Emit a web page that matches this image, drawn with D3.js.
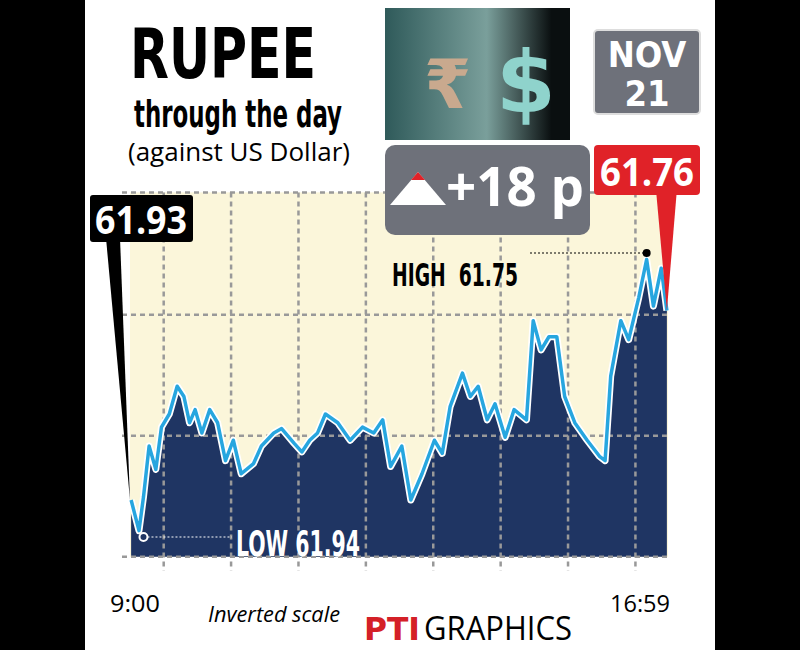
<!DOCTYPE html>
<html><head><meta charset="utf-8">
<script src="https://cdn.jsdelivr.net/npm/d3@7"></script>
<style>body{margin:0;background:#000}svg{display:block}</style>
</head><body><svg id="c" width="800" height="650"></svg>
<script>
// minutes after 9:00 open, rupee per dollar (scale is inverted)
const minutes = [1,8,12,17,23,28,35,42,48,53,58,64,71,78,85,92,99,110,117,128,135,146,153,160,167,174,185,196,207,217,225,232,242,250,260,271,278,285,296,303,310,318,325,334,342,353,359,366,373,380,387,396,407,418,423,428,437,444,453,460,466,473,478];
const rates = [61.916,61.937,61.914,61.879,61.895,61.866,61.857,61.838,61.845,61.863,61.854,61.870,61.854,61.863,61.889,61.875,61.898,61.891,61.879,61.870,61.867,61.877,61.883,61.875,61.870,61.857,61.863,61.875,61.866,61.870,61.861,61.893,61.879,61.916,61.898,61.875,61.884,61.852,61.829,61.845,61.838,61.861,61.850,61.873,61.854,61.861,61.793,61.813,61.804,61.804,61.845,61.863,61.875,61.886,61.889,61.831,61.793,61.806,61.777,61.751,61.783,61.757,61.786];
const gridRates = [61.705,61.789,61.872,61.955];
const gridMinutes = [30,90,150,210,270,330,390,450];
const timeLabels = ["9:00","16:59"];
const openRate = "61.93", closeRate = "61.76", change = "+18 p";
const high = {m:460, v:61.75, label:"HIGH  61.75"};
const low = {m:12, v:61.94, label:"LOW  61.94"};

const svg = d3.select("#c");
const cond = "'Liberation Sans Narrow','DejaVu Sans Condensed',sans-serif";
svg.append("rect").attr("x",85).attr("y",0).attr("width",630).attr("height",650).attr("fill","#fff");

const x = d3.scaleLinear().domain([0,479]).range([130,668]);
const y = d3.scaleLinear().domain([61.75,61.94]).range([258,535]);
const data = minutes.map((m,i)=>({m, v:rates[i]}));

svg.append("rect").attr("x",130).attr("y",y(gridRates[0])).attr("width",538).attr("height",y(gridRates[3])-y(gridRates[0])).attr("fill","#fbf6da");
svg.append("path").datum(data).attr("fill","#1f3563")
  .attr("d", d3.area().x(d=>x(d.m)).y0(y(gridRates[3])).y1(d=>y(d.v)));
const g = svg.append("g").attr("stroke","#999").attr("stroke-width",2.5).attr("stroke-dasharray","5,4");
g.selectAll(".h").data(gridRates).join("line").attr("x1",122).attr("x2",668).attr("y1",d=>y(d)).attr("y2",d=>y(d));
g.selectAll(".v").data(gridMinutes).join("line").attr("x1",d=>x(d)).attr("x2",d=>x(d)).attr("y1",y(gridRates[0])).attr("y2",y(gridRates[3])+14);
const line = d3.line().x(d=>x(d.m)).y(d=>y(d.v));
svg.append("path").datum(data).attr("fill","none").attr("stroke","#fff").attr("stroke-width",7).attr("stroke-linejoin","round").attr("d",line);
svg.append("path").datum(data).attr("fill","none").attr("stroke","#27a6df").attr("stroke-width",3.5).attr("stroke-linejoin","round").attr("d",line);

// header
svg.append("text").attr("x",130).attr("y",78).attr("font-family",cond).attr("font-weight","bold").attr("font-size",70).attr("textLength",186).attr("lengthAdjust","spacingAndGlyphs").text("RUPEE");
svg.append("text").attr("x",134).attr("y",127).attr("font-family",cond).attr("font-weight","bold").attr("font-size",38).attr("textLength",208).attr("lengthAdjust","spacingAndGlyphs").text("through the day");
svg.append("text").attr("x",128).attr("y",161).attr("font-family","'Open Sans',sans-serif").attr("font-size",26).attr("textLength",222).attr("lengthAdjust","spacingAndGlyphs").text("(against US Dollar)");

const defs = svg.append("defs");
const gr = defs.append("linearGradient").attr("id","img");
gr.append("stop").attr("offset","0").attr("stop-color","#2f5a5a");
gr.append("stop").attr("offset","0.55").attr("stop-color","#7a9f9b");
gr.append("stop").attr("offset","0.9").attr("stop-color","#0a0f10");
svg.append("rect").attr("x",385).attr("y",8).attr("width",185).attr("height",132).attr("fill","url(#img)");
svg.append("text").attr("x",424).attr("y",108).attr("font-family","'DejaVu Sans',sans-serif").attr("font-weight","bold").attr("font-size",68).attr("fill","#c9a98e").text("₹");
svg.append("text").attr("x",496).attr("y",112).attr("font-family","'DejaVu Sans',sans-serif").attr("font-weight","bold").attr("font-size",86).attr("fill","#8fd3cc").text("$");

svg.append("rect").attr("x",594).attr("y",30).attr("width",106).attr("height",84).attr("rx",4).attr("fill","#6e717a").attr("stroke","#ddd").attr("stroke-width",2);
svg.append("text").attr("x",647).attr("y",67).attr("text-anchor","middle").attr("font-family",cond).attr("font-weight","bold").attr("font-size",36).attr("fill","#fff").text("NOV");
svg.append("text").attr("x",647).attr("y",106).attr("text-anchor","middle").attr("font-family",cond).attr("font-weight","bold").attr("font-size",36).attr("fill","#fff").text("21");

svg.append("rect").attr("x",385).attr("y",145).attr("width",205).attr("height",90).attr("rx",10).attr("fill","#6e717a");
svg.append("path").attr("d","M418,172 L446,205 L390,205 Z").attr("fill","#fff");
svg.append("path").attr("d","M418,172 L425,180 L411,180 Z").attr("fill","#e02228");
svg.append("text").attr("x",446).attr("y",206).attr("font-family","'Open Sans',sans-serif").attr("font-weight","bold").attr("font-size",54).attr("fill","#fff").attr("textLength",138).attr("lengthAdjust","spacingAndGlyphs").text(change);

// open / close callouts
svg.append("path").attr("d",`M656,190 L${x(478)+10},190 L${x(478)},${y(61.786)} Z`).attr("fill","#e02228");
svg.append("rect").attr("x",594).attr("y",145).attr("width",106).attr("height",50).attr("rx",4).attr("fill","#e02228");
svg.append("text").attr("x",647).attr("y",186).attr("text-anchor","middle").attr("font-family","'Open Sans',sans-serif").attr("font-weight","bold").attr("font-size",40).attr("fill","#fff").attr("textLength",94).attr("lengthAdjust","spacingAndGlyphs").text(closeRate);
svg.append("path").attr("d",`M106,238 L120,238 L${x(0)},${y(61.916)} Z`).attr("fill","#000");
svg.append("rect").attr("x",90).attr("y",195).attr("width",103).attr("height",47).attr("rx",3).attr("fill","#000");
svg.append("text").attr("x",141).attr("y",234).attr("text-anchor","middle").attr("font-family","'Open Sans',sans-serif").attr("font-weight","bold").attr("font-size",40).attr("fill","#fff").attr("textLength",92).attr("lengthAdjust","spacingAndGlyphs").text(openRate);

// high / low
svg.append("line").attr("x1",530).attr("x2",x(high.m)).attr("y1",y(high.v)-5).attr("y2",y(high.v)-5).attr("stroke","#000").attr("stroke-width",1.2).attr("stroke-dasharray","2,2");
svg.append("circle").attr("cx",x(high.m)).attr("cy",y(high.v)-5).attr("r",4).attr("fill","#000");
svg.append("text").attr("x",392).attr("y",286).attr("font-family",cond).attr("font-weight","bold").attr("font-size",32).attr("textLength",126).attr("lengthAdjust","spacingAndGlyphs").attr("xml:space","preserve").text(high.label);
svg.append("line").attr("x1",x(low.m)).attr("x2",232).attr("y1",y(low.v)+2).attr("y2",y(low.v)+2).attr("stroke","#fff").attr("stroke-width",1.2).attr("stroke-dasharray","2,2");
svg.append("circle").attr("cx",x(low.m)).attr("cy",y(low.v)+2).attr("r",4).attr("fill","#1f3563").attr("stroke","#fff").attr("stroke-width",2);
svg.append("text").attr("x",236).attr("y",556).attr("font-family",cond).attr("font-weight","bold").attr("font-size",36).attr("fill","#fff").attr("textLength",124).attr("lengthAdjust","spacingAndGlyphs").text(low.label);

// footer
svg.selectAll(".t").data(timeLabels).join("text").attr("x",(d,i)=>i?640:135).attr("y",612).attr("text-anchor","middle")
  .attr("font-family","'Open Sans',sans-serif").attr("font-size",24).attr("textLength",(d,i)=>i?60:50).attr("lengthAdjust","spacingAndGlyphs").text(d=>d);
svg.append("text").attr("x",208).attr("y",622).attr("font-family","'Open Sans',sans-serif").attr("font-style","italic").attr("font-size",22).attr("textLength",132).attr("lengthAdjust","spacingAndGlyphs").text("Inverted scale");
svg.append("text").attr("x",364).attr("y",640).attr("font-family",cond).attr("font-weight","bold").attr("font-size",32).attr("fill","#d42027").attr("textLength",56).attr("lengthAdjust","spacingAndGlyphs").text("PTI");
svg.append("text").attr("x",424).attr("y",640).attr("font-family","'Open Sans',sans-serif").attr("font-size",32).attr("textLength",148).attr("lengthAdjust","spacingAndGlyphs").text("GRAPHICS");
</script></body></html>
